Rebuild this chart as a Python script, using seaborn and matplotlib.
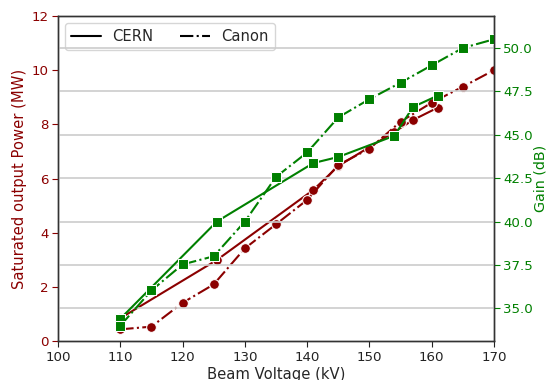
import matplotlib
matplotlib.use("Agg")
import matplotlib.pyplot as plt
import seaborn as sns
import pandas as pd
from matplotlib.lines import Line2D

cern_voltage = [110, 125.5, 141, 145, 154, 157, 161]
cern_power = [0.84, 2.99, 5.58, 6.46, 7.72, 8.16, 8.62]
cern_gain = [34.4, 40.0, 43.37, 43.72, 44.94, 46.6, 47.26]

canon_voltage = [110, 115, 120, 125, 130, 135, 140, 145, 150, 155, 160, 165, 170]
canon_power = [0.43, 0.53, 1.41, 2.09, 3.42, 4.31, 5.21, 6.5, 7.10, 8.10, 8.80, 9.39, 10.0]
canon_gain = [34.0, 36.03, 37.53, 38.0, 40.0, 42.57, 43.98, 46.0, 47.05, 48.0, 49.0, 50.0, 50.5]

legend_labels = ["CERN", "Canon"]
power_color = "#8b0000"
gain_color = "#008000"

sns.set_style("white")
plt.rcParams["font.family"] = ["DejaVu Sans"]

fig, ax1 = plt.subplots(figsize=(5.48, 3.8), dpi=100)
ax2 = ax1.twinx()

cern = pd.DataFrame({"v": cern_voltage, "p": cern_power, "g": cern_gain})
canon = pd.DataFrame({"v": canon_voltage, "p": canon_power, "g": canon_gain})

sns.lineplot(data=cern, x="v", y="p", ax=ax1, color=power_color, marker="o",
             markersize=7, linestyle="-", sort=False, lw=1.5)
sns.lineplot(data=canon, x="v", y="p", ax=ax1, color=power_color, marker="o",
             markersize=7, linestyle="-.", sort=False, lw=1.5)
sns.lineplot(data=cern, x="v", y="g", ax=ax2, color=gain_color, marker="s",
             markersize=7, linestyle="-", sort=False, lw=1.5)
sns.lineplot(data=canon, x="v", y="g", ax=ax2, color=gain_color, marker="s",
             markersize=7, linestyle="-.", sort=False, lw=1.5)

ax1.set_xlim(100, 170)
ax1.set_ylim(0, 12)
ax2.set_ylim(33.12, 51.84)
ax2.set_yticks([35.0, 37.5, 40.0, 42.5, 45.0, 47.5, 50.0])
ax2.set_yticklabels(["35.0", "37.5", "40.0", "42.5", "45.0", "47.5", "50.0"])

ax2.grid(True, axis="y", color="#cccccc", lw=1.2)
ax2.set_axisbelow(True)

ax1.set_xlabel("Beam Voltage (kV)", fontsize=10.6, labelpad=2)
ax1.set_ylabel("Saturated output Power (MW)", fontsize=10.6, color=power_color, labelpad=3)
ax2.set_ylabel("Gain (dB)", fontsize=10.3, color=gain_color, labelpad=0.5)

ax1.tick_params(axis="y", colors=power_color, labelsize=9.6, left=True, length=4, pad=3)
ax1.tick_params(axis="x", labelsize=9.6, bottom=True, length=4, colors="#222222", pad=3)
ax2.tick_params(axis="y", colors=gain_color, labelsize=9.6, right=True, length=4, pad=2.5)
for ax in (ax1, ax2):
    for s in ax.spines.values():
        s.set_color("#333333")
        s.set_linewidth(1.0)

handles = [Line2D([], [], color="black", ls="-", lw=1.5),
           Line2D([], [], color="black", ls="-.", lw=1.5)]
ax1.legend(handles, legend_labels, loc="upper left", ncol=2, fontsize=10.6,
           frameon=True, columnspacing=1.8, handlelength=2.0)

fig.subplots_adjust(left=58/548, right=494/548, top=1-16/380, bottom=1-341/380)
fig.savefig("out.png", dpi=100)
